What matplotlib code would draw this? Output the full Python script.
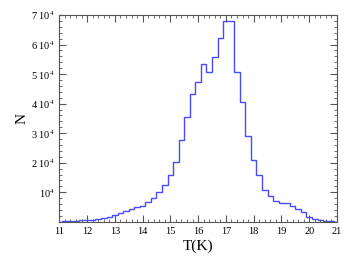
import matplotlib
matplotlib.use("Agg")
import matplotlib.pyplot as plt
import numpy as np
from matplotlib.ticker import MultipleLocator, FixedLocator

plt.rcParams['font.family'] = ['Liberation Serif', 'DejaVu Serif']
plt.rcParams['mathtext.fontset'] = 'stix'

# bin centres (K) and counts (units of 1e4)
t_centres = [11.0, 11.2, 11.4, 11.6, 11.8, 12.0, 12.2, 12.4, 12.6, 12.8,
             13.0, 13.2, 13.4, 13.6, 13.8, 14.0, 14.2, 14.4, 14.6, 14.8,
             15.0, 15.2, 15.4, 15.6, 15.8, 16.0, 16.2, 16.4, 16.6, 16.8,
             17.0, 17.2, 17.4, 17.6, 17.8, 18.0, 18.2, 18.4, 18.6, 18.8,
             19.0, 19.2, 19.4, 19.6, 19.8, 20.0, 20.2, 20.4, 20.6, 20.8, 21.0]
counts_1e4 = [0.01, 0.02, 0.03, 0.04, 0.05, 0.06, 0.07, 0.09, 0.12, 0.16,
              0.23, 0.29, 0.37, 0.45, 0.50, 0.54, 0.68, 0.80, 1.00, 1.25,
              1.58, 2.03, 2.76, 3.54, 4.32, 4.72, 5.34, 5.08, 5.59, 6.21,
              6.78, 6.78, 5.07, 4.07, 2.90, 2.09, 1.59, 1.07, 0.86, 0.70,
              0.64, 0.64, 0.55, 0.44, 0.33, 0.18, 0.11, 0.05, 0.03, 0.02, 0.01]
bin_width = 0.2
y_ticks = [1e4, 2e4, 3e4, 4e4, 5e4, 6e4, 7e4]
y_labels = ['10$^4$', '2 10$^4$', '3 10$^4$', '4 10$^4$', '5 10$^4$', '6 10$^4$', '7 10$^4$']
x_ticks = list(range(11, 22))

tc = np.array(t_centres)
counts = np.array(counts_1e4) * 1e4
edges = np.concatenate([tc - bin_width / 2, [tc[-1] + bin_width / 2]])

fig = plt.figure(figsize=(3.51, 2.67), dpi=100)
ax = fig.add_axes([0.169, 0.169, 0.791, 0.775])
ax.stairs(counts, edges, color='#4a4aff', linewidth=1.0)

ax.set_xlim(11, 21)
ax.set_ylim(0, 70000)
ax.xaxis.set_major_locator(FixedLocator(x_ticks))
ax.xaxis.set_minor_locator(MultipleLocator(0.2))
ax.yaxis.set_major_locator(FixedLocator(y_ticks))
ax.yaxis.set_minor_locator(MultipleLocator(2000))
ax.set_yticklabels(y_labels)
ax.set_xticklabels([str(v) for v in x_ticks])

for s in ax.spines.values():
    s.set_color('#555555')
    s.set_linewidth(0.8)
ax.tick_params(which='both', direction='in', top=True, right=True, colors='#555555',
               labelcolor='black', labelsize=7.5)
ax.tick_params(which='major', length=5, width=0.8)
ax.tick_params(which='minor', length=2.5, width=0.6)
ax.tick_params(axis='x', pad=4)
ax.tick_params(axis='y', pad=3)

ax.set_xlabel('T(K)', fontsize=11, labelpad=2)
ax.set_ylabel('N', fontsize=11, labelpad=2)

fig.savefig('out.png', dpi=100)
